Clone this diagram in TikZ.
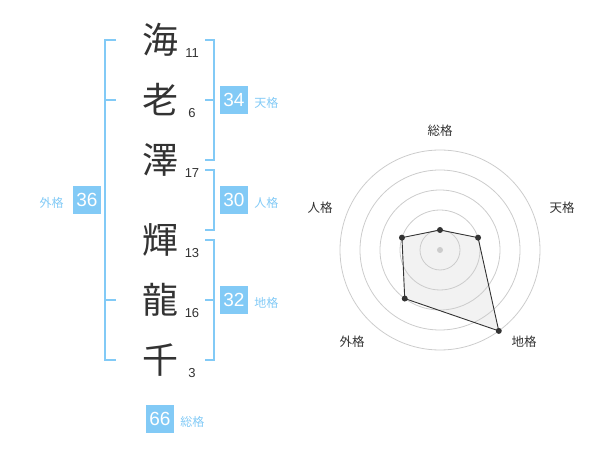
\documentclass[tikz,border=0pt]{standalone}
\usepackage{fontspec}
\setmainfont{Noto Sans CJK JP}
\newfontfamily\numfont{Liberation Sans}
\usetikzlibrary{positioning}
\definecolor{kakublue}{RGB}{130,202,246}
\definecolor{inkgray}{RGB}{51,51,51}
\definecolor{ringgray}{RGB}{204,204,204}
\definecolor{radarfill}{RGB}{242,242,242}
\tikzset{
  kanji/.style={font=\fontsize{36}{36}\selectfont, text=inkgray, inner sep=0pt},
  strokes/.style={font=\numfont\fontsize{13}{13}\selectfont, text=inkgray, inner sep=0pt},
  kakubox/.style={fill=kakublue, text=white, minimum size=28pt, inner sep=0pt,
    font=\numfont\fontsize{19}{19}\selectfont},
  kakulabel/.style={text=kakublue, font=\fontsize{12}{12}\selectfont, inner sep=0pt, yshift=-3pt},
  bracket/.style={draw=kakublue, line width=2pt},
  ring/.style={draw=ringgray, line width=0.8pt},
  axislabel/.style={text=inkgray, font=\fontsize{12.5}{12.5}\selectfont, inner sep=0pt}
}
\begin{document}
\begin{tikzpicture}[x=1pt,y=-1pt]
  \useasboundingbox (0,0) rectangle (600,470);
  \foreach \ch/\y/\n in {海/40/11,老/100/6,澤/160/17,輝/240/13,龍/300/16,千/360/3}
    \draw (160,\y) node[kanji] (c\y) {\ch} (192,\y+13) node[strokes] (s\y) {\n};
  % brackets
  \draw[bracket] (116,40) -- (105,40) -- (105,360) -- (116,360);
  \draw[bracket] (105,100) -- (116,100);
  \draw[bracket] (105,300) -- (116,300);
  \draw[bracket] (205,40) -- (214,40) -- (214,160) -- (205,160);
  \draw[bracket] (205,100) -- (214,100);
  \draw[bracket] (205,170) -- (214,170) -- (214,230) -- (205,230);
  \draw[bracket] (205,240) -- (214,240) -- (214,360) -- (205,360);
  \draw[bracket] (205,300) -- (214,300);
  % scores
  \node[kakubox] (ten) at (234,100) {34};
  \node[kakulabel, right=6pt of ten] (tenl) {天格};
  \node[kakubox] (jin) at (234,200) {30};
  \node[kakulabel, right=6pt of jin] (jinl) {人格};
  \node[kakubox] (chi) at (234,300) {32};
  \node[kakulabel, right=6pt of chi] (chil) {地格};
  \node[kakubox] (gai) at (87,200) {36};
  \node[kakulabel, left=9pt of gai] (gail) {外格};
  \node[kakubox] (sou) at (160,419) {66};
  \node[kakulabel, right=6pt of sou] (soul) {総格};
  % radar
  \begin{scope}[shift={(440,250)}]
    \coordinate (psou) at (-90:20);
    \coordinate (pten) at (-18:40);
    \coordinate (pchi) at (54:100);
    \coordinate (pgai) at (126:60);
    \coordinate (pjin) at (198:40);
    \fill[radarfill] (psou) -- (pten) -- (pchi) -- (pgai) -- (pjin) -- cycle;
    \foreach \r in {20,40,...,100}
      \draw[ring] (0,0) circle (\r pt);
    \fill[ringgray] (0,0) circle (3pt);
    \draw[inkgray, line width=0.9pt] (psou) -- (pten) -- (pchi) -- (pgai) -- (pjin) -- cycle;
    \foreach \p in {psou,pten,pchi,pgai,pjin}
      \fill[inkgray] (\p) circle (3pt);
  \end{scope}
  \node[axislabel] (asou) at (440,131) {総格};
  \node[axislabel] (aten) at (562,208) {天格};
  \node[axislabel] (achi) at (524,342) {地格};
  \node[axislabel] (agai) at (352,342) {外格};
  \node[axislabel] (ajin) at (320,208) {人格};
\end{tikzpicture}
\end{document}
